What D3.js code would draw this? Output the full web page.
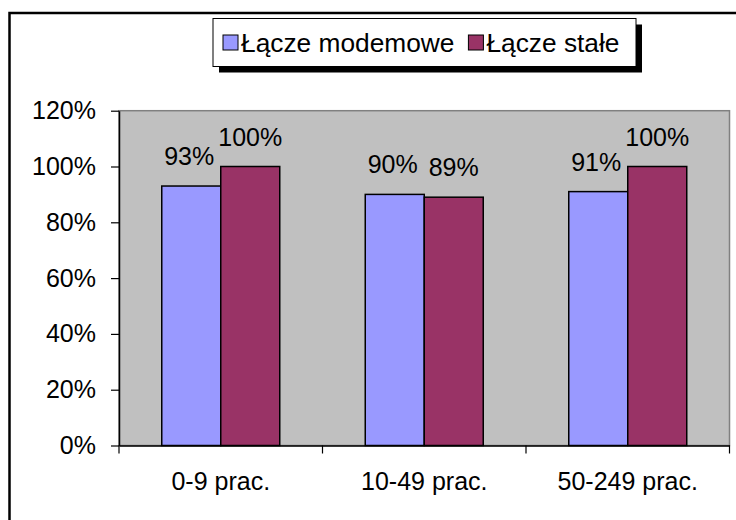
<!DOCTYPE html>
<html>
<head>
<meta charset="utf-8">
<script src="https://cdn.jsdelivr.net/npm/d3@7"></script>
<style>
  html, body { margin: 0; padding: 0; background: #fff; }
  svg { display: block; }
  text { font-family: "Liberation Sans", Arial, sans-serif; fill: #000; }
</style>
</head>
<body>
<svg id="chart" width="736" height="520"></svg>
<script>
const categories = ["0-9 prac.", "10-49 prac.", "50-249 prac."];
const seriesNames = ["Łącze modemowe", "Łącze stałe"];
const modemValues = [0.93, 0.90, 0.91];
const fixedValues = [1.00, 0.89, 1.00];
const valueLabels = [["93%", "90%", "91%"], ["100%", "89%", "100%"]];
const yTicks = [0, 0.2, 0.4, 0.6, 0.8, 1.0, 1.2];
const colors = ["#9999FF", "#993366"];

const series = [modemValues, fixedValues];
const svg = d3.select("#chart");

const plot = { left: 119, right: 729.5, top: 110.7, bottom: 445.5 };

// outer frame (extends past the picture edges)
svg.append("rect")
  .attr("x", 9.5).attr("y", 13).attr("width", 760).attr("height", 540)
  .attr("fill", "none").attr("stroke", "#000").attr("stroke-width", 2.5);

const x = d3.scaleBand().domain(categories).range([plot.left, plot.right]).padding(0);
const xInner = d3.scaleBand().domain(d3.range(seriesNames.length))
  .range([0, x.bandwidth()]).paddingInner(0).paddingOuter(0.7246);
const y = d3.scaleLinear().domain([0, 1.2]).range([plot.bottom, plot.top]);

// plot area
svg.append("rect")
  .attr("x", plot.left).attr("y", plot.top)
  .attr("width", plot.right - plot.left).attr("height", plot.bottom - plot.top)
  .attr("fill", "#C0C0C0").attr("stroke", "#808080").attr("stroke-width", 1.5);

// bars
series.forEach((vals, si) => {
  svg.append("g").selectAll("rect").data(vals).enter().append("rect")
    .attr("x", (d, i) => x(categories[i]) + xInner(si))
    .attr("y", d => y(d))
    .attr("width", xInner.bandwidth())
    .attr("height", d => y(0) - y(d))
    .attr("fill", colors[si])
    .attr("stroke", "#000").attr("stroke-width", 1.5);
});

// value labels
series.forEach((vals, si) => {
  svg.append("g").selectAll("text").data(vals).enter().append("text")
    .attr("x", (d, i) => x(categories[i]) + xInner(si) + xInner.bandwidth() / 2 - (si === 0 ? 2 : 0))
    .attr("y", d => y(d) - 21)
    .attr("text-anchor", "middle")
    .attr("font-size", 25)
    .text((d, i) => valueLabels[si][i]);
});

// y axis
const yAxis = d3.axisLeft(y).tickValues(yTicks).tickFormat(d3.format(".0%"))
  .tickSizeInner(8).tickSizeOuter(0).tickPadding(15);
const gy = svg.append("g").attr("transform", `translate(${plot.left},0)`).call(yAxis);
gy.select(".domain").attr("stroke", "#000").attr("stroke-width", 1.5);
gy.selectAll(".tick line").attr("stroke", "#000").attr("stroke-width", 1.2);
gy.selectAll(".tick text").attr("font-size", 25)
  .attr("font-family", "'Liberation Sans', Arial, sans-serif").attr("fill", "#000")
  .attr("dy", "0.32em");

// x axis
const xAxis = d3.axisBottom(x).tickSize(0).tickPadding(27);
const gx = svg.append("g").attr("transform", `translate(0,${plot.bottom})`).call(xAxis);
gx.select(".domain").attr("stroke", "#000").attr("stroke-width", 1.5);
gx.selectAll(".tick text").attr("font-size", 25)
  .attr("font-family", "'Liberation Sans', Arial, sans-serif").attr("fill", "#000");
// category boundary ticks
const bounds = categories.map(c => x(c)).concat([plot.right]);
svg.append("g").selectAll("line").data(bounds).enter().append("line")
  .attr("x1", d => d).attr("x2", d => d)
  .attr("y1", plot.bottom).attr("y2", plot.bottom + 8)
  .attr("stroke", "#000").attr("stroke-width", 1.2);

// legend
const lg = { x: 213, y: 18.5, w: 423, h: 48, shadow: 6 };
svg.append("rect")
  .attr("x", lg.x + lg.shadow).attr("y", lg.y + lg.shadow)
  .attr("width", lg.w).attr("height", lg.h).attr("fill", "#000");
svg.append("rect")
  .attr("x", lg.x).attr("y", lg.y).attr("width", lg.w).attr("height", lg.h)
  .attr("fill", "#fff").attr("stroke", "#000").attr("stroke-width", 1);
let cx = lg.x + 10;
seriesNames.forEach((name, si) => {
  svg.append("rect")
    .attr("x", cx).attr("y", lg.y + 16.5).attr("width", 15).attr("height", 15)
    .attr("fill", colors[si]).attr("stroke", "#000").attr("stroke-width", 1);
  const t = svg.append("text")
    .attr("x", cx + 18).attr("y", lg.y + 33.5)
    .attr("font-size", 26.3).text(name);
  cx += 18 + t.node().getComputedTextLength() + 14;
});
</script>
</body>
</html>
